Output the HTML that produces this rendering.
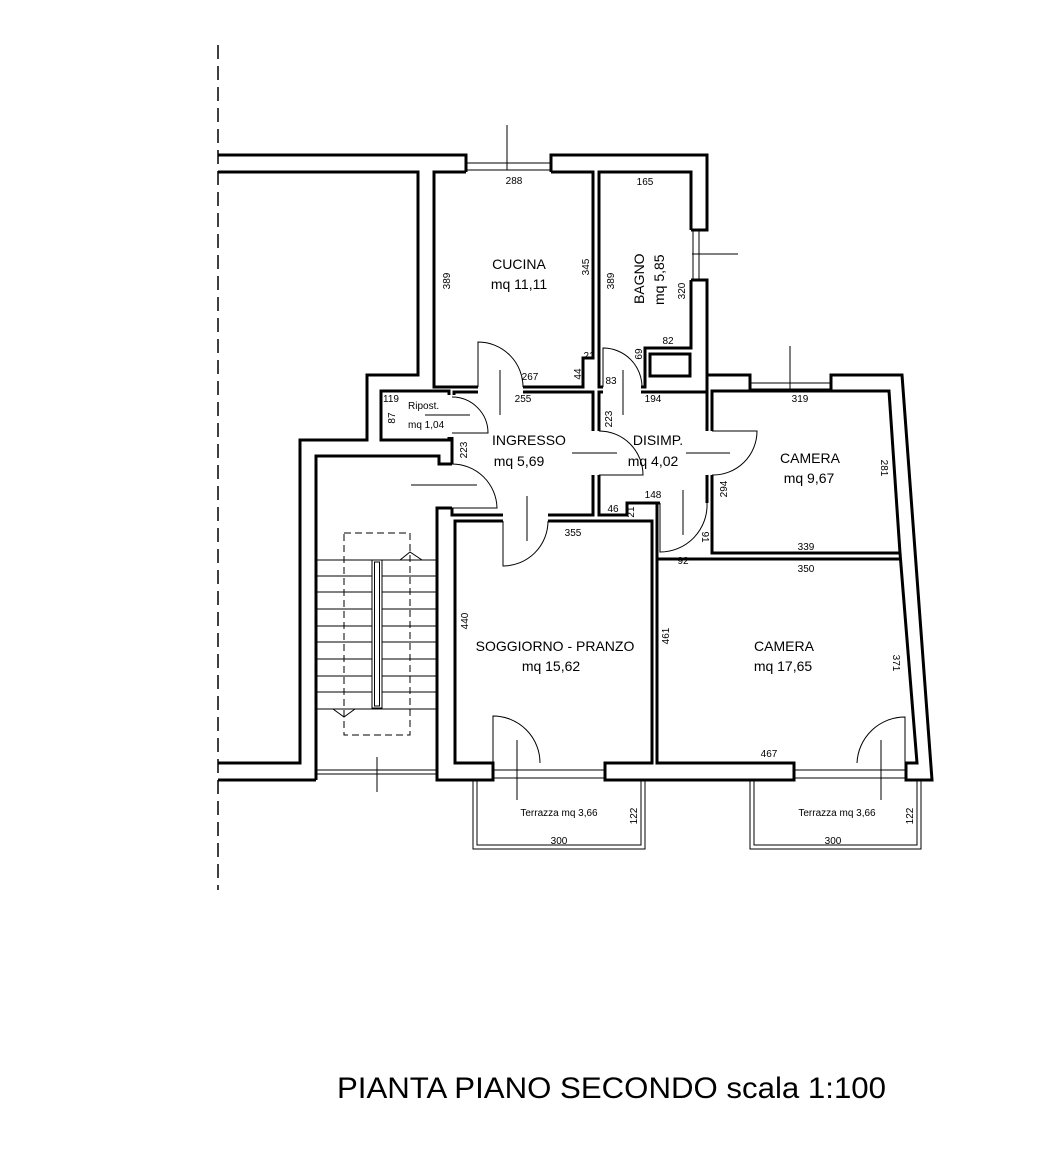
<!DOCTYPE html>
<html><head><meta charset="utf-8"><style>
html,body{margin:0;padding:0;background:#fff;}
svg{display:block;}
text{font-family:"Liberation Sans",sans-serif;fill:#000;}
.w{fill:none;stroke:#000;stroke-width:3;}
.t{fill:none;stroke:#000;stroke-width:1;}
.d{font-size:10px;}
.r{font-size:14px;}
</style></head><body>
<svg width="1042" height="1158" viewBox="0 0 1042 1158" xmlns="http://www.w3.org/2000/svg">
<!-- dashed axis -->
<line x1="218" y1="45" x2="218" y2="890" stroke="#000" stroke-width="1.5" stroke-dasharray="14,7"/>

<!-- outer top wall -->
<polyline class="w" points="218,155 466,155 466,172"/>
<polyline class="w" points="551,172 551,155 707,155 707,230 691,230"/>
<polyline class="w" points="691,280 707,280 707,375 750,375 750,391 712,391"/>
<polyline class="w" points="831,391 831,375 902,375 932,780 906,780 906,763 917,763 900,553"/>
<line class="t" x1="466" y1="163" x2="551" y2="163"/><line class="t" x1="466" y1="170" x2="551" y2="170"/>
<line class="t" x1="699" y1="230" x2="699" y2="280"/><line class="t" x1="693" y1="230" x2="693" y2="280"/>
<line class="t" x1="750" y1="383" x2="831" y2="383"/><line class="t" x1="750" y1="389" x2="831" y2="389"/>

<!-- left room -->
<polyline class="w" points="218,172 418,172 418,375 367,375 367,440 300,440 300,763 218,763"/>
<line class="w" x1="218" y1="780" x2="316" y2="780"/>
<!-- stair walls -->
<polyline class="w" points="316,780 316,456 439,456 439,464 452,464"/>
<polyline class="w" points="452,508 437,508 437,780 493,780 493,763 455,763 455,521 503,521"/>
<line class="t" x1="316" y1="770" x2="437" y2="770"/><line class="t" x1="316" y1="774" x2="437" y2="774"/>

<!-- kitchen -->
<polyline class="w" points="466,172 434,172 434,387 478,387"/>
<polyline class="w" points="523,387 583,387 583,358 593,358 593,172 551,172"/>
<!-- bagno -->
<polyline class="w" points="603,387 599,387 599,172 691,172 691,230"/>
<polyline class="w" points="691,280 691,348 645,348 645,387 641,387"/>
<rect class="w" x="650" y="354" width="40" height="22"/>
<line class="w" x1="707" y1="375" x2="707" y2="392"/>

<!-- ripost -->
<polyline class="w" points="449,395 449,391 381,391 381,440 449,440 449,437"/>
<polyline class="w" points="454,395 454,392 478,392"/>
<!-- ingresso -->
<polyline class="w" points="523,392 593,392 593,431"/>
<polyline class="w" points="593,475 593,515 548,515"/>
<polyline class="w" points="503,515 452,515 452,508"/>
<line class="w" x1="452" y1="464" x2="452" y2="437"/>
<!-- disimp -->
<polyline class="w" points="641,392 707,392 707,431"/>
<polyline class="w" points="599,431 599,392 603,392"/>
<polyline class="w" points="599,475 599,515 627,515 627,503 660,503"/>
<line class="w" x1="707" y1="475" x2="707" y2="503"/>
<!-- camera small -->
<polyline class="w" points="712,431 712,391 889,391 900,553 712,553 712,475"/>
<!-- soggiorno -->
<polyline class="w" points="548,521 652,521 652,763 605,763 605,780 794,780 794,763 657,763 657,503"/>
<line class="w" x1="657" y1="559" x2="900" y2="559"/>
<line class="t" x1="493" y1="770" x2="605" y2="770"/><line class="t" x1="493" y1="778" x2="605" y2="778"/>
<line class="t" x1="794" y1="770" x2="906" y2="770"/><line class="t" x1="794" y1="778" x2="906" y2="778"/>

<!-- terraces -->
<polyline class="t" points="473,780 473,849 645,849 645,780"/>
<polyline class="t" points="477,780 477,845 641,845 641,780"/>
<polyline class="t" points="750,780 750,849 921,849 921,780"/>
<polyline class="t" points="754,780 754,845 917,845 917,780"/>

<!-- stairs -->
<g class="t">
<line x1="316" y1="560" x2="437" y2="560"/><line x1="316" y1="576" x2="437" y2="576"/>
<line x1="316" y1="592" x2="437" y2="592"/><line x1="316" y1="609" x2="437" y2="609"/>
<line x1="316" y1="626" x2="437" y2="626"/><line x1="316" y1="642" x2="437" y2="642"/>
<line x1="316" y1="659" x2="437" y2="659"/><line x1="316" y1="676" x2="437" y2="676"/>
<line x1="316" y1="692" x2="437" y2="692"/><line x1="316" y1="709" x2="437" y2="709"/>
<rect x="372" y="560" width="10" height="148" fill="#fff"/>
<rect x="374.5" y="562" width="5" height="144"/>
<rect x="344" y="533" width="66" height="202" stroke-dasharray="7,4"/>
<polyline points="400,560 410,552 422,560"/>
<polyline points="333,709 344,717 355,709"/>
</g>

<!-- doors -->
<g class="t">
<path d="M478,387 L478,342 A45,45 0 0 1 523,387"/>
<line x1="500" y1="370" x2="500" y2="415"/>
<path d="M452,397 A36,36 0 0 1 488,433 L452,433"/>
<line x1="425" y1="415" x2="470" y2="415"/>
<path d="M452,464 A45,45 0 0 1 497,508 L452,508"/>
<line x1="411" y1="485" x2="477" y2="485"/>
<path d="M503,521 L503,566 A45,45 0 0 0 548,521"/>
<line x1="527" y1="496" x2="527" y2="541"/>
<path d="M599,431 A44,44 0 0 1 643,475 L599,475"/>
<line x1="572" y1="453" x2="617" y2="453"/>
<path d="M712,475 A44,44 0 0 0 757,431 L712,431"/>
<line x1="686" y1="453" x2="730" y2="453"/>
<path d="M603,387 L603,348 A39,39 0 0 1 642,387"/>
<line x1="623" y1="370" x2="623" y2="415"/>
<path d="M660,503 L660,552 A47,47 0 0 0 707,503"/>
<line x1="683" y1="490" x2="683" y2="535"/>
<path d="M493,763 L493,716 A47,47 0 0 1 540,763"/>
<line x1="517" y1="740" x2="517" y2="800"/>
<path d="M905,763 L905,717 A48,48 0 0 0 857,763"/>
<line x1="881" y1="740" x2="881" y2="800"/>
<line x1="507" y1="125" x2="507" y2="170"/>
<line x1="692" y1="254" x2="738" y2="254"/>
<line x1="790" y1="346" x2="790" y2="390"/>
<line x1="377" y1="757" x2="377" y2="792"/>
</g>

<!-- room labels -->
<text class="r" x="519" y="269" text-anchor="middle">CUCINA</text>
<text class="r" x="519" y="289" text-anchor="middle">mq 11,11</text>
<text class="r" transform="translate(644,304) rotate(-90)">BAGNO</text>
<text class="r" transform="translate(664,305) rotate(-90)">mq 5,85</text>
<text x="408" y="409" style="font-size:10px">Ripost.</text>
<text x="408" y="428" style="font-size:10px">mq 1,04</text>
<text class="r" x="529" y="445" text-anchor="middle">INGRESSO</text>
<text class="r" x="519" y="466" text-anchor="middle">mq 5,69</text>
<text class="r" x="658" y="445" text-anchor="middle">DISIMP.</text>
<text class="r" x="653" y="466" text-anchor="middle">mq 4,02</text>
<text class="r" x="810" y="463" text-anchor="middle">CAMERA</text>
<text class="r" x="809" y="483" text-anchor="middle">mq 9,67</text>
<text class="r" x="555" y="651" text-anchor="middle">SOGGIORNO - PRANZO</text>
<text class="r" x="551" y="671" text-anchor="middle">mq 15,62</text>
<text class="r" x="784" y="651" text-anchor="middle">CAMERA</text>
<text class="r" x="783" y="671" text-anchor="middle">mq 17,65</text>
<text x="559" y="816" text-anchor="middle" style="font-size:10px">Terrazza  mq 3,66</text>
<text x="837" y="816" text-anchor="middle" style="font-size:10px">Terrazza  mq 3,66</text>

<!-- dimensions -->
<g class="d">
<text x="514" y="184" text-anchor="middle">288</text>
<text x="645" y="185" text-anchor="middle">165</text>
<text transform="translate(450,281) rotate(-90)" text-anchor="middle">389</text>
<text transform="translate(589,267) rotate(-90)" text-anchor="middle">345</text>
<text transform="translate(614,281) rotate(-90)" text-anchor="middle">389</text>
<text transform="translate(685,291) rotate(-90)" text-anchor="middle">320</text>
<text x="668" y="344" text-anchor="middle">82</text>
<text transform="translate(642,354) rotate(-90)" text-anchor="middle">69</text>
<text x="589" y="359" text-anchor="middle">21</text>
<text transform="translate(581,374) rotate(-90)" text-anchor="middle">44</text>
<text x="530" y="380" text-anchor="middle">267</text>
<text x="611" y="384" text-anchor="middle">83</text>
<text x="523" y="402" text-anchor="middle">255</text>
<text x="653" y="402" text-anchor="middle">194</text>
<text x="391" y="402" text-anchor="middle">119</text>
<text transform="translate(395,418) rotate(-90)" text-anchor="middle">87</text>
<text transform="translate(467,450) rotate(-90)" text-anchor="middle">223</text>
<text transform="translate(612,419) rotate(-90)" text-anchor="middle">223</text>
<text x="653" y="498" text-anchor="middle">148</text>
<text x="613" y="512" text-anchor="middle">46</text>
<text transform="translate(634,512) rotate(-90)" text-anchor="middle">21</text>
<text transform="translate(702,537) rotate(90)" text-anchor="middle">91</text>
<text x="683" y="564" text-anchor="middle">92</text>
<text transform="translate(727,489) rotate(-90)" text-anchor="middle">294</text>
<text x="800" y="402" text-anchor="middle">319</text>
<text transform="translate(881,468) rotate(90)" text-anchor="middle">281</text>
<text x="806" y="550" text-anchor="middle">339</text>
<text x="806" y="572" text-anchor="middle">350</text>
<text x="573" y="536" text-anchor="middle">355</text>
<text transform="translate(468,621) rotate(-90)" text-anchor="middle">440</text>
<text transform="translate(669,636) rotate(-90)" text-anchor="middle">461</text>
<text transform="translate(893,663) rotate(90)" text-anchor="middle">371</text>
<text x="769" y="757" text-anchor="middle">467</text>
<text transform="translate(637,816) rotate(-90)" text-anchor="middle">122</text>
<text transform="translate(913,816) rotate(-90)" text-anchor="middle">122</text>
<text x="559" y="844" text-anchor="middle">300</text>
<text x="833" y="844" text-anchor="middle">300</text>
</g>

<text x="337" y="1098" style="font-size:30px" textLength="549" lengthAdjust="spacingAndGlyphs">PIANTA PIANO SECONDO  scala 1:100</text>
</svg>
</body></html>
